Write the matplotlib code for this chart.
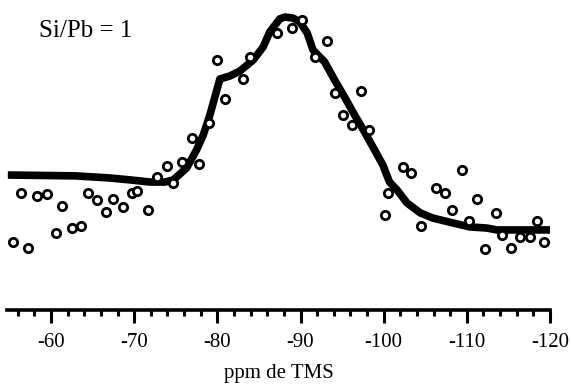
import matplotlib
matplotlib.use("Agg")
import matplotlib.pyplot as plt
from matplotlib.ticker import MultipleLocator

plt.rcParams["axes.unicode_minus"] = False

# experimental points (ppm, relative intensity)
pts_ppm = [-55.4, -57.2, -56.4, -58.3, -59.5, -61.3, -60.6, -62.5, -63.6, -64.4,
           -65.5, -66.6, -67.5, -68.7, -69.7, -70.3, -71.7, -72.7, -73.9, -74.7,
           -75.7, -77.8, -76.9, -79.0, -80.0, -80.9, -83.1, -83.9, -87.2, -89.0,
           -90.2, -91.7, -93.2, -94.1, -97.3, -95.1, -96.2, -98.2, -100.5, -102.3,
           -103.3, -100.1, -104.5, -106.3, -107.4, -108.2, -109.4, -111.2, -110.2, -113.5,
           -114.2, -112.2, -115.3, -116.4, -117.6, -118.4, -119.3]
pts_int = [-5.6, -8.5, 17.4, 16.0, 16.9, 11.3, -1.4, 0.9, 1.9, 17.4,
           14.1, 8.5, 14.6, 10.8, 17.4, 18.3, 9.4, 24.9, 30.0, 22.1,
           31.9, 31.0, 43.2, 50.2, 79.8, 61.5, 70.9, 81.2, 92.5, 94.8,
           98.6, 81.2, 88.7, 64.3, 65.3, 54.0, 49.3, 46.9, 17.4, 29.6,
           26.8, 7.0, 1.9, 19.7, 17.4, 9.4, 28.2, 14.6, 4.2, 8.0,
           -2.3, -8.9, -8.5, -3.3, -3.3, 4.2, -5.6]

# fitted curve
fit_ppm = [-54.8, -62.9, -67.1, -69.5, -71.9, -73.7, -74.7, -76.3, -77.5, -78.3,
           -79.1, -80.3, -81.5, -82.7, -84.3, -85.5, -86.3, -87.5, -88.1, -89.1,
           -89.9, -90.8, -91.5, -92.9, -94.1, -95.3, -96.5, -97.7, -98.9, -99.9,
           -100.7, -101.6, -102.8, -104.4, -105.9, -108.3, -110.4, -112.4, -113.6, -120.0]
fit_int = [25.8, 25.4, 24.4, 23.5, 22.5, 22.5, 23.5, 29.1, 37.6, 44.6,
           54.0, 70.9, 72.3, 74.6, 79.8, 85.9, 93.0, 99.1, 100.0, 99.5,
           97.7, 92.5, 84.5, 78.9, 70.4, 62.4, 54.0, 46.0, 37.6, 30.5,
           22.5, 18.8, 12.7, 8.0, 5.6, 3.3, 1.4, 0.9, 0.0, 0.0]

serif = ["Liberation Serif", "DejaVu Serif"]

fig = plt.figure(figsize=(5.71, 3.84), dpi=100)
ax = fig.add_axes([7 / 571, 1 - 310 / 384, 543 / 571, 310 / 384])

ax.plot(fit_ppm, fit_int, color="black", linewidth=5.5, solid_capstyle="butt",
        solid_joinstyle="round", zorder=2)
ax.plot(pts_ppm, pts_int, linestyle="none", marker="o", markersize=6,
        markerfacecolor="white", markeredgecolor="black", markeredgewidth=2,
        zorder=3, clip_on=False)

ax.set_xlim(-54.7, -120)
ax.set_ylim(-37.6, 108)

for s in ["top", "right", "left"]:
    ax.spines[s].set_visible(False)
ax.spines["bottom"].set_linewidth(2.6)
ax.set_yticks([])

ax.xaxis.set_major_locator(MultipleLocator(10))
ax.xaxis.set_minor_locator(MultipleLocator(2))
ax.tick_params(axis="x", which="major", length=9.5, width=2.2, pad=7,
               labelsize=15, direction="out")
ax.tick_params(axis="x", which="minor", length=4.5, width=2.2, direction="out")
for lab in ax.get_xticklabels():
    lab.set_family(serif)

ax.set_xlabel("ppm de TMS", fontsize=15, family=serif, labelpad=9)

fig.text(39 / 571, 1 - 37 / 384, "Si/Pb = 1", fontsize=18, family=serif,
         va="baseline", ha="left")

fig.savefig("out.png", dpi=100)
